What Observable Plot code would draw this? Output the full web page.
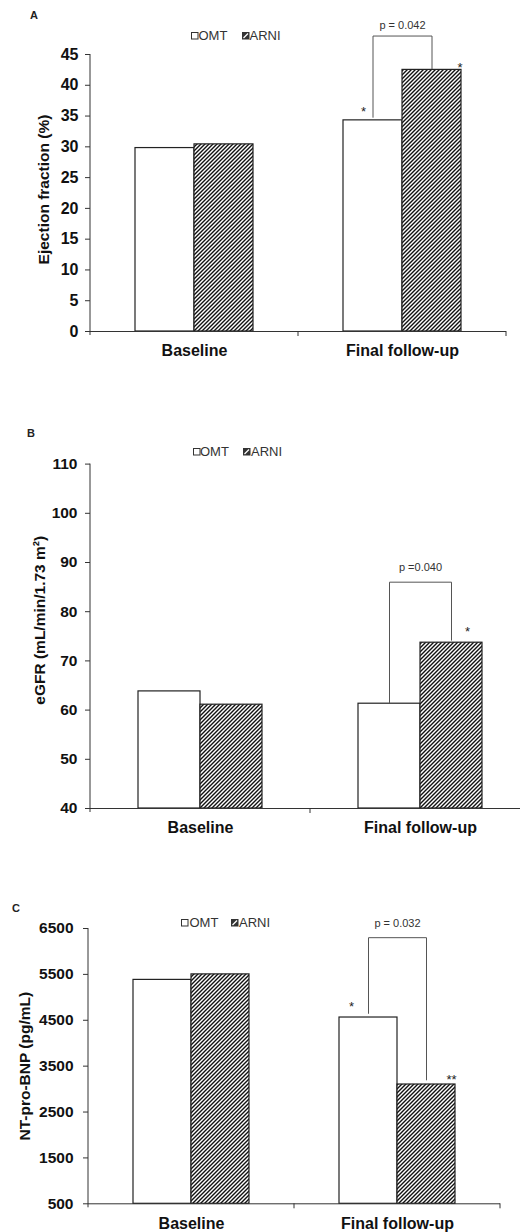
<!DOCTYPE html>
<html><head><meta charset="utf-8">
<script src="https://cdn.jsdelivr.net/npm/d3@7"></script>
<script src="https://cdn.jsdelivr.net/npm/@observablehq/plot@0.6"></script>
<style>
body{margin:0;background:#fff;width:520px;height:1232px;position:relative;overflow:hidden;font-family:"Liberation Sans",Arial,sans-serif;}
.panel{position:absolute;left:0;width:520px;overflow:hidden;}
.plabel{position:absolute;font-weight:bold;font-size:11px;line-height:12px;color:#222;}
.ltext{position:absolute;font-size:13px;line-height:14px;color:#333;white-space:nowrap;}
.lbox{position:absolute;}
</style></head><body>
<script>
const times = ["Baseline", "Final follow-up"];
const groups = ["OMT", "ARNI"];

// Panel A – ejection fraction (%)
const efOMT = [29.8, 34.3];
const efARNI = [30.4, 42.5];
const efTicks = [0, 5, 10, 15, 20, 25, 30, 35, 40, 45];
const efBracket = [34.8, 48.0, 42.7];   // OMT foot, top, ARNI foot
const efP = "p = 0.042";
const efPY = 49.7;
const efStars = ["*", "*"];
const efStarY = [35.7, 42.8];

// Panel B – eGFR
const gfrOMT = [63.8, 61.3];
const gfrARNI = [61.1, 73.7];
const gfrTicks = [40, 50, 60, 70, 80, 90, 100, 110];
const gfrBracket = [61.5, 86.0, 74.2];
const gfrP = "p =0.040";
const gfrPY = 89.0;
const gfrStars = ["", "*"];
const gfrStarY = [null, 76.0];

// Panel C – NT-pro-BNP
const bnpOMT = [5380, 4560];
const bnpARNI = [5500, 3100];
const bnpTicks = [500, 1500, 2500, 3500, 4500, 5500, 6500];
const bnpBracket = [4650, 6300, 3200];
const bnpP = "p = 0.032";
const bnpPY = 6620;
const bnpStars = ["*", "**"];
const bnpStarY = [4800, 3210];

const FONT = '"Liberation Sans", Arial, sans-serif';

function axisFrame(yMin, yMax) {
  return function (index, scales, values, dims) {
    const g = d3.create("svg:g").attr("stroke", "#333").attr("fill", "none").attr("stroke-width", 1);
    const y0 = scales.y(yMin), y1 = scales.y(yMax);
    const xl = dims.marginLeft, xr = dims.width - dims.marginRight;
    for (const i of index) {
      if (i === 0) g.append("line").attr("x1", xl).attr("x2", xl).attr("y1", y1).attr("y2", y0 + 4);
      g.append("line").attr("x1", xr).attr("x2", xr).attr("y1", y0).attr("y2", y0 + 5);
    }
    return g.node();
  };
}

function panel(cfg) {
  const rows = [];
  times.forEach((t, i) => {
    rows.push({time: t, group: "OMT", value: cfg.omt[i]});
    rows.push({time: t, group: "ARNI", value: cfg.arni[i]});
  });
  const yMin = cfg.ticks[0], yMax = cfg.ticks[cfg.ticks.length - 1];
  const last = times[times.length - 1];
  const bracket = [
    {time: last, group: "OMT", v: cfg.bracket[0]},
    {time: last, group: "OMT", v: cfg.bracket[1]},
    {time: last, group: "ARNI", v: cfg.bracket[1]},
    {time: last, group: "ARNI", v: cfg.bracket[2]}
  ];
  const pid = "hatch" + cfg.id;
  const starMarks = groups.map((g, i) => cfg.stars[i] ? Plot.text([{time: last, group: g, v: cfg.starY[i], s: cfg.stars[i]}], {
    fx: "time", x: "group", y: "v", text: "s", dx: cfg.starDx[i], fontSize: 13, fill: "#222", lineAnchor: "middle"
  }) : null).filter(Boolean);

  const plot = Plot.plot({
    width: 520, height: cfg.height,
    marginTop: cfg.mt, marginBottom: cfg.mb, marginLeft: cfg.ml, marginRight: cfg.mr,
    style: {fontFamily: FONT, background: "transparent"},
    fx: {domain: times, padding: 0, label: null},
    x: {domain: groups, paddingInner: 0, paddingOuter: 0.75, axis: null},
    y: {domain: [yMin, yMax]},
    marks: [
      Plot.barY(rows.filter(d => d.group === "OMT"), {fx: "time", x: "group", y1: yMin, y2: "value", fill: "white", stroke: "#222", strokeWidth: 1.2}),
      Plot.barY(rows.filter(d => d.group === "ARNI"), {fx: "time", x: "group", y1: yMin, y2: "value", fill: `url(#${pid})`, stroke: "#222", strokeWidth: 1.2}),
      Plot.ruleY([yMin], {stroke: "#333"}),
      Plot.ruleX(times, {fx: d => d, x: null, stroke: "#333", render: axisFrame(yMin, yMax)}),
      Plot.axisY({ticks: cfg.ticks, tickSize: 5, tickPadding: cfg.tickPad, fontSize: cfg.tickFont, fontWeight: "bold", stroke: "#333", fill: "#111", label: null, tickFormat: d => String(d)}),
      Plot.axisFx({anchor: "bottom", tickSize: 0, tickPadding: 13.5, fontSize: 16, fontWeight: "bold", fill: "#111", label: null}),
      Plot.text([cfg.ylabel], {fx: () => times[0], frameAnchor: "left", textAnchor: "middle", rotate: -90, dx: cfg.ylx, dy: cfg.yly, fontSize: 15.5, fontWeight: "bold", fill: "#111", lineAnchor: "middle"}),
      Plot.line(bracket, {fx: "time", x: "group", y: "v", stroke: "#555", strokeWidth: 1}),
      Plot.text([cfg.p], {fx: () => last, y: () => cfg.pY, frameAnchor: "middle", fontSize: 11, fill: "#333", lineAnchor: "middle"}),
      ...starMarks
    ]
  });

  const svg = d3.select(plot);
  const defs = svg.insert("defs", ":first-child");
  const pat = defs.append("pattern").attr("id", pid).attr("patternUnits", "userSpaceOnUse").attr("width", 4).attr("height", 4);
  pat.append("rect").attr("width", 4).attr("height", 4).attr("fill", "white");
  pat.append("path").attr("d", "M-1,1 l2,-2 M0,4 l4,-4 M3,5 l2,-2").attr("stroke", "#111").attr("stroke-width", 1.4);

  const div = document.createElement("div");
  div.className = "panel";
  div.style.top = cfg.top + "px";
  div.style.height = cfg.height + "px";
  div.appendChild(plot);
  document.body.appendChild(div);

  // panel letter
  const pl = document.createElement("div");
  pl.className = "plabel";
  pl.textContent = cfg.letter;
  pl.style.left = cfg.letterX + "px";
  pl.style.top = (cfg.letterY - 6) + "px";
  document.body.appendChild(pl);

  // legend
  groups.forEach((g, i) => {
    const lx = cfg.legend[i][0], tx = cfg.legend[i][1], yc = cfg.legendY;
    const box = d3.create("svg").attr("class", "lbox").attr("width", 8).attr("height", 8)
      .style("left", (lx - 0.5) + "px").style("top", (yc - 4) + "px");
    if (g === "OMT") {
      box.append("rect").attr("x", 0.5).attr("y", 0.5).attr("width", 6.5).attr("height", 6.5).attr("fill", "white").attr("stroke", "#333");
    } else {
      box.append("rect").attr("x", 0.5).attr("y", 0.5).attr("width", 6.5).attr("height", 6.5).attr("fill", "#333").attr("stroke", "#333");
      box.append("path").attr("d", "M1.5,6 L6,1.5").attr("stroke", "white").attr("stroke-width", 1.2);
    }
    document.body.appendChild(box.node());
    const t = document.createElement("div");
    t.className = "ltext";
    t.textContent = g;
    t.style.left = tx + "px";
    t.style.top = (yc - 7) + "px";
    document.body.appendChild(t);
  });
}

panel({id: "A", top: 0, height: 370, mt: 54, mb: 39, ml: 89, mr: 14,
  omt: efOMT, arni: efARNI, ticks: efTicks, bracket: efBracket, p: efP, pY: efPY,
  stars: efStars, starY: efStarY, starDx: [-9.5, 28], tickFont: 16, tickPad: 7,
  ylabel: "Ejection fraction (%)", ylx: -46, yly: -3.5,
  letter: "A", letterX: 30, letterY: 15,
  legend: [[191.5, 198.5], [242.7, 249.5]], legendY: 35.5});

panel({id: "B", top: 380, height: 460, mt: 83.6, mb: 32, ml: 90, mr: -10,
  omt: gfrOMT, arni: gfrARNI, ticks: gfrTicks, bracket: gfrBracket, p: gfrP, pY: gfrPY,
  stars: gfrStars, starY: gfrStarY, starDx: [0, 16], tickFont: 15.5, tickPad: 8,
  ylabel: "eGFR (mL/min/1.73 m²)", ylx: -50, yly: -16,
  letter: "B", letterX: 27, letterY: 433,
  legend: [[193, 200], [243.5, 251]], legendY: 451.7});

panel({id: "C", top: 860, height: 372, mt: 68, mb: 28.7, ml: 88, mr: 20,
  omt: bnpOMT, arni: bnpARNI, ticks: bnpTicks, bracket: bnpBracket, p: bnpP, pY: bnpPY,
  stars: bnpStars, starY: bnpStarY, starDx: [-17, 25], tickFont: 15.5, tickPad: 10,
  ylabel: "NT-pro-BNP (pg/mL)", ylx: -63, yly: 0,
  letter: "C", letterX: 12, letterY: 908,
  legend: [[181.7, 189.5], [231.7, 239]], legendY: 923});
</script>
</body></html>
